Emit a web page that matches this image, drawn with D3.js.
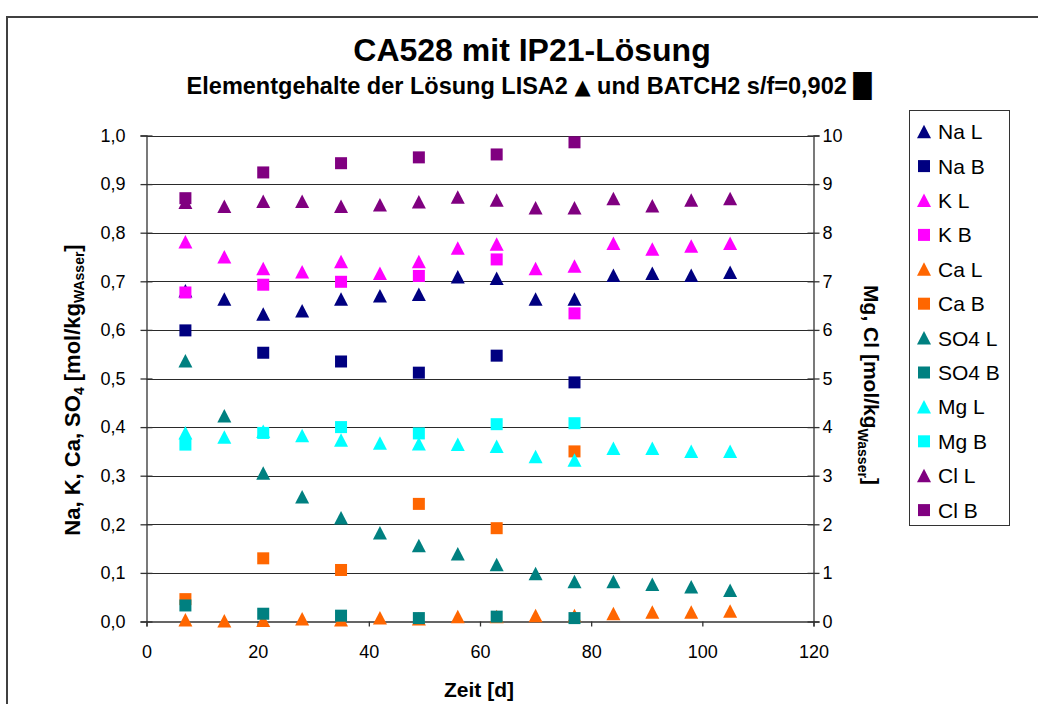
<!DOCTYPE html>
<html>
<head>
<meta charset="utf-8">
<script src="https://cdn.jsdelivr.net/npm/d3@7"></script>
<style>
  html, body { margin: 0; padding: 0; background: #fff; }
  svg { display: block; font-family: "Liberation Sans", Arial, sans-serif; }
</style>
</head>
<body>
<svg id="chart" width="1038" height="704"></svg>
<script>
// Sampling days
const daysL = [7, 14, 21, 28, 35, 42, 49, 56, 63, 70, 77, 84, 91, 98, 105];
const daysB = [7, 21, 35, 49, 63, 77];

// Left axis series [mol/kg Wasser]
const naL  = [0.680, 0.663, 0.632, 0.639, 0.663, 0.670, 0.673, 0.709, 0.706, 0.663, 0.663, 0.712, 0.716, 0.712, 0.718];
const naB  = [0.599, 0.553, 0.535, 0.512, 0.547, 0.492];
const kL   = [0.781, 0.750, 0.726, 0.719, 0.740, 0.716, 0.740, 0.768, 0.776, 0.726, 0.731, 0.778, 0.766, 0.772, 0.778];
const kB   = [0.677, 0.693, 0.699, 0.711, 0.745, 0.634];
const caL  = [0.003, 0.001, 0.002, 0.005, 0.003, 0.007, 0.005, 0.010, 0.010, 0.012, 0.012, 0.016, 0.019, 0.019, 0.021];
const caB  = [0.046, 0.130, 0.106, 0.242, 0.192, 0.350];
const so4L = [0.536, 0.423, 0.305, 0.256, 0.213, 0.182, 0.156, 0.139, 0.117, 0.098, 0.082, 0.082, 0.076, 0.071, 0.064];
const so4B = [0.033, 0.016, 0.012, 0.007, 0.010, 0.007];

// Right axis series [mol/kg Wasser]
const mgL  = [3.88, 3.79, 3.91, 3.82, 3.73, 3.67, 3.65, 3.64, 3.60, 3.39, 3.32, 3.56, 3.56, 3.50, 3.50];
const mgB  = [3.64, 3.88, 4.00, 3.87, 4.06, 4.08];
const clL  = [8.62, 8.54, 8.64, 8.64, 8.54, 8.57, 8.63, 8.73, 8.67, 8.51, 8.51, 8.70, 8.55, 8.67, 8.70];
const clB  = [8.71, 9.24, 9.43, 9.55, 9.61, 9.86];

// Axis ticks
const xTicks = [0, 20, 40, 60, 80, 100, 120];
const yLeftTicks = [0, 0.1, 0.2, 0.3, 0.4, 0.5, 0.6, 0.7, 0.8, 0.9, 1.0];
const yRightTicks = [0, 1, 2, 3, 4, 5, 6, 7, 8, 9, 10];

// Series in drawing order
const series = [
  { name: "Na L",  days: daysL, values: naL,  color: "#000080", shape: "tri", axis: "L" },
  { name: "Na B",  days: daysB, values: naB,  color: "#000080", shape: "sq",  axis: "L" },
  { name: "K L",   days: daysL, values: kL,   color: "#FF00FF", shape: "tri", axis: "L" },
  { name: "K B",   days: daysB, values: kB,   color: "#FF00FF", shape: "sq",  axis: "L" },
  { name: "Ca L",  days: daysL, values: caL,  color: "#FF6600", shape: "tri", axis: "L" },
  { name: "Ca B",  days: daysB, values: caB,  color: "#FF6600", shape: "sq",  axis: "L" },
  { name: "SO4 L", days: daysL, values: so4L, color: "#008080", shape: "tri", axis: "L" },
  { name: "SO4 B", days: daysB, values: so4B, color: "#008080", shape: "sq",  axis: "L" },
  { name: "Mg L",  days: daysL, values: mgL,  color: "#00FFFF", shape: "tri", axis: "R" },
  { name: "Mg B",  days: daysB, values: mgB,  color: "#00FFFF", shape: "sq",  axis: "R" },
  { name: "Cl L",  days: daysL, values: clL,  color: "#800080", shape: "tri", axis: "R" },
  { name: "Cl B",  days: daysB, values: clB,  color: "#800080", shape: "sq",  axis: "R" }
];

const svg = d3.select("#chart");
const plotLeft = 146.5, plotRight = 813.5, plotTop = 135.5, plotBottom = 621.5;

const x  = d3.scaleLinear().domain([0, 120]).range([plotLeft, plotRight]);
const yL = d3.scaleLinear().domain([0, 1]).range([plotBottom, plotTop]);
const yR = d3.scaleLinear().domain([0, 10]).range([plotBottom, plotTop]);

// Outer chart frame
svg.append("rect")
  .attr("x", 7).attr("y", 17).attr("width", 1100).attr("height", 800)
  .attr("fill", "none").attr("stroke", "#404040").attr("stroke-width", 2);

// Titles
svg.append("text")
  .attr("x", 532).attr("y", 61).attr("text-anchor", "middle")
  .attr("font-size", 32).attr("font-weight", "bold")
  .text("CA528 mit IP21-Lösung");

const sub = svg.append("text")
  .attr("x", 529).attr("y", 94).attr("text-anchor", "middle")
  .attr("font-size", 23.5).attr("font-weight", "bold");
sub.append("tspan").text("Elementgehalte der Lösung LISA2 ");
sub.append("tspan").attr("font-family", "DejaVu Sans").attr("font-size", 21).text("▲");
sub.append("tspan").text(" und BATCH2 s/f=0,902 ");
sub.append("tspan").attr("font-family", "DejaVu Sans").text("█");

// Horizontal gridlines
svg.append("g").selectAll("line")
  .data(yLeftTicks.filter(d => d > 0))
  .join("line")
  .attr("x1", plotLeft).attr("x2", plotRight)
  .attr("y1", d => Math.round(yL(d)) + 0.5).attr("y2", d => Math.round(yL(d)) + 0.5)
  .attr("stroke", "#2a2a2a").attr("stroke-width", 1);

const fmt = d => d.toFixed(1).replace(".", ",");

// Left axis
const gL = svg.append("g").attr("transform", `translate(${plotLeft},0)`)
  .call(d3.axisLeft(yL).tickValues(yLeftTicks).tickFormat(fmt).tickSize(6).tickPadding(15));
gL.selectAll(".tick line").attr("x1", -6).attr("x2", 6);

// Right axis
const gR = svg.append("g").attr("transform", `translate(${plotRight},0)`)
  .call(d3.axisRight(yR).tickValues(yRightTicks).tickFormat(d3.format("d")).tickSize(6).tickPadding(3));
gR.selectAll(".tick line").attr("x1", -6).attr("x2", 6);

// Bottom axis
const gX = svg.append("g").attr("transform", `translate(0,${plotBottom})`)
  .call(d3.axisBottom(x).tickValues(xTicks).tickFormat(d3.format("d")).tickSize(5).tickPadding(19));

[gL, gR, gX].forEach(g => {
  g.select(".domain").attr("stroke", "#333").attr("stroke-width", 1.3);
  g.selectAll(".tick line").attr("stroke", "#333").attr("stroke-width", 1.3);
  g.selectAll("text").attr("font-size", 18).attr("fill", "#000")
    .attr("font-family", "Liberation Sans, Arial, sans-serif");
});

// Axis titles
svg.append("text")
  .attr("x", 479).attr("y", 697).attr("text-anchor", "middle")
  .attr("font-size", 21).attr("font-weight", "bold").text("Zeit [d]");

const tl = svg.append("text")
  .attr("transform", "translate(80,390) rotate(-90)")
  .attr("text-anchor", "middle").attr("font-size", 22).attr("font-weight", "bold");
tl.append("tspan").text("Na, K, Ca, SO");
tl.append("tspan").attr("font-size", 14).attr("dy", 4).text("4");
tl.append("tspan").attr("dy", -4).text("  [mol/kg");
tl.append("tspan").attr("font-size", 14).attr("dy", 4).text("WAsser");
tl.append("tspan").attr("dy", -4).text("]");

const tr = svg.append("text")
  .attr("transform", "translate(864,385) rotate(90)")
  .attr("text-anchor", "middle").attr("font-size", 21).attr("font-weight", "bold");
tr.append("tspan").text("Mg, Cl [mol/kg");
tr.append("tspan").attr("font-size", 14).attr("dy", 6).text("Wasser");
tr.append("tspan").attr("dy", -6).text("]");

// Markers: filled triangles for LISA2, filled squares for BATCH2
const sqSize = 12;
function drawMarker(g, shape, color) {
  if (shape === "tri") {
    g.append("path").attr("d", "M0,-7L7,6.5L-7,6.5Z").attr("fill", color);
  } else {
    g.append("rect").attr("x", -sqSize / 2).attr("y", -sqSize / 2)
      .attr("width", sqSize).attr("height", sqSize).attr("fill", color);
  }
}

const plot = svg.append("g");
series.forEach(s => {
  const yScale = s.axis === "L" ? yL : yR;
  s.days.forEach((d, i) => {
    const g = plot.append("g")
      .attr("transform", `translate(${x(d)},${yScale(s.values[i])})`);
    drawMarker(g, s.shape, s.color);
  });
});

// Legend
const lg = svg.append("g");
lg.append("rect").attr("x", 909.5).attr("y", 110.5).attr("width", 100).attr("height", 415)
  .attr("fill", "#fff").attr("stroke", "#333").attr("stroke-width", 1);
series.forEach((s, i) => {
  const cy = 131.7 + i * 34.4;
  const g = lg.append("g").attr("transform", `translate(924,${cy})`);
  drawMarker(g, s.shape, s.color);
  lg.append("text").attr("x", 938).attr("y", cy).attr("dy", "0.36em")
    .attr("font-size", 21).text(s.name);
});
</script>
</body>
</html>
